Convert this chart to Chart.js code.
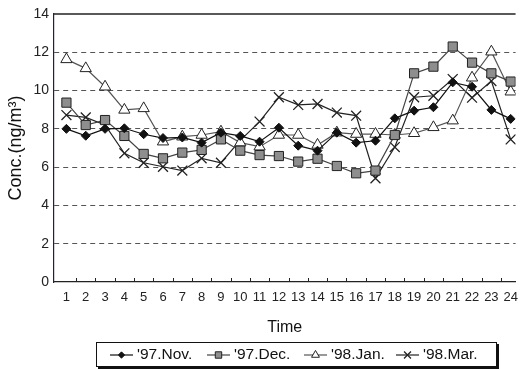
<!DOCTYPE html>
<html>
<head>
<meta charset="utf-8">
<script src="https://cdn.jsdelivr.net/npm/chart.js@4/dist/chart.umd.min.js"></script>
<style>
html, body { margin: 0; padding: 0; background: #fff; }
#wrap { width: 526px; height: 369px; }
</style>
</head>
<body>
<div id="wrap"><canvas id="concChart" width="526" height="369"></canvas></div>
<script>
// 時刻 (横軸)
const hours = [1, 2, 3, 4, 5, 6, 7, 8, 9, 10, 11, 12, 13, 14, 15, 16, 17, 18, 19, 20, 21, 22, 23, 24];
// 縦軸の目盛り
const yTicks = [0, 2, 4, 6, 8, 10, 12, 14];
// 凡例ラベル
const seriesLabels = ["'97.Nov.", "'97.Dec.", "'98.Jan.", "'98.Mar."];

// 各月の濃度 (ng/m3)
const nov97 = [8.0, 7.64, 8.0, 8.03, 7.72, 7.52, 7.55, 7.28, 7.8, 7.63, 7.33, 8.06, 7.12, 6.86, 7.8, 7.28, 7.38, 8.55, 8.95, 9.13, 10.43, 10.2, 8.99, 8.52];
const dec97 = [9.37, 8.2, 8.46, 7.63, 6.69, 6.46, 6.76, 6.9, 7.45, 6.86, 6.63, 6.58, 6.29, 6.44, 6.06, 5.68, 5.82, 7.68, 10.9, 11.25, 12.3, 11.46, 10.9, 10.47];
const jan98 = [11.63, 11.16, 10.2, 8.99, 9.07, 7.33, 7.59, 7.68, 7.85, 7.28, 7.07, 7.68, 7.68, 7.16, 7.8, 7.73, 7.73, 7.68, 7.77, 8.08, 8.43, 10.67, 12.03, 9.94];
const mar98 = [8.72, 8.6, 8.2, 6.72, 6.23, 6.02, 5.82, 6.46, 6.23, 7.4, 8.38, 9.65, 9.25, 9.3, 8.85, 8.69, 5.42, 7.05, 9.65, 9.73, 10.6, 9.63, 10.5, 7.45];

function toPoints(values) {
    return hours.map((h, i) => ({ x: h, y: values[i] }));
}

const FONT = '"Liberation Sans", Arial, sans-serif';

// 凡例を枠付きで描くプラグイン
const legendStarts = [110, 207, 304, 396];
const boxLegend = {
    id: 'boxLegend',
    afterDraw(chart) {
        const ctx = chart.ctx;
        ctx.save();
        // 影付きの枠
        ctx.fillStyle = '#111';
        ctx.fillRect(98, 344, 401, 25);
        ctx.fillStyle = '#fff';
        ctx.fillRect(96, 342, 401, 25);
        ctx.strokeStyle = '#111';
        ctx.lineWidth = 1;
        ctx.strokeRect(96.5, 342.5, 400, 24);

        ctx.font = '15.5px ' + FONT;
        ctx.textBaseline = 'middle';
        const y = 355;
        chart.data.datasets.forEach((ds, i) => {
            const x = legendStarts[i];
            ctx.strokeStyle = ds.borderColor;
            ctx.lineWidth = 1.2;
            ctx.beginPath();
            ctx.moveTo(x, y);
            ctx.lineTo(x + 23, y);
            ctx.stroke();
            ctx.fillStyle = ds.pointBackgroundColor;
            ctx.strokeStyle = ds.pointBorderColor;
            ctx.lineWidth = ds.pointBorderWidth;
            Chart.helpers.drawPoint(ctx, {
                pointStyle: ds.pointStyle,
                radius: ds.pointRadius * 0.7,
                rotation: 0,
                borderWidth: ds.pointBorderWidth
            }, x + 11.5, y);
            ctx.fillStyle = '#111';
            ctx.fillText(ds.label, x + 27, y);
        });
        ctx.restore();
    }
};

// 上枠と横軸の内向き目盛り
const frameLines = {
    id: 'frameLines',
    afterDraw(chart) {
        const { ctx, chartArea } = chart;
        const xs = chart.scales.x;
        ctx.save();
        ctx.strokeStyle = '#222';
        ctx.lineWidth = 1.5;
        ctx.beginPath();
        ctx.moveTo(chartArea.left, chartArea.top);
        ctx.lineTo(chartArea.right, chartArea.top);
        ctx.stroke();
        ctx.lineWidth = 1;
        hours.forEach(h => {
            const px = Math.round(xs.getPixelForValue(h + 0.5)) + 0.5;
            if (px < chartArea.right) {
                ctx.beginPath();
                ctx.moveTo(px, chartArea.bottom);
                ctx.lineTo(px, chartArea.bottom - 4);
                ctx.stroke();
            }
        });
        ctx.restore();
    }
};

new Chart(document.getElementById('concChart').getContext('2d'), {
    type: 'line',
    data: {
        datasets: [
            {
                label: seriesLabels[0],
                data: toPoints(nov97),
                borderColor: '#111',
                borderWidth: 1.2,
                pointStyle: 'rectRot',
                pointRadius: 4.5,
                pointBackgroundColor: '#111',
                pointBorderColor: '#111',
                pointBorderWidth: 1
            },
            {
                label: seriesLabels[1],
                data: toPoints(dec97),
                borderColor: '#444',
                borderWidth: 1.2,
                pointStyle: 'rect',
                pointRadius: 6.5,
                pointBackgroundColor: '#8e8e8e',
                pointBorderColor: '#222',
                pointBorderWidth: 1
            },
            {
                label: seriesLabels[2],
                data: toPoints(jan98),
                borderColor: '#555',
                borderWidth: 1.2,
                pointStyle: 'triangle',
                pointRadius: 6.5,
                pointBackgroundColor: '#fff',
                pointBorderColor: '#222',
                pointBorderWidth: 1
            },
            {
                label: seriesLabels[3],
                data: toPoints(mar98),
                borderColor: '#222',
                borderWidth: 1.2,
                pointStyle: 'crossRot',
                pointRadius: 7,
                pointBackgroundColor: '#222',
                pointBorderColor: '#222',
                pointBorderWidth: 1.3
            }
        ]
    },
    options: {
        responsive: false,
        animation: false,
        devicePixelRatio: 1,
        layout: { padding: { left: 0, right: 0, top: 14, bottom: 31 } },
        plugins: {
            legend: { display: false },
            tooltip: { enabled: false }
        },
        scales: {
            x: {
                type: 'linear',
                min: 0.357,
                max: 24.253,
                afterFit: scale => { scale.height = 56; },
                afterBuildTicks: scale => { scale.ticks = hours.map(v => ({ value: v })); },
                grid: { display: false, drawTicks: false },
                border: { display: true, color: '#222', width: 1.2 },
                ticks: {
                    autoSkip: false,
                    maxRotation: 0,
                    padding: 8,
                    color: '#222',
                    font: { family: FONT, size: 13 }
                },
                title: {
                    display: true,
                    text: 'Time',
                    color: '#111',
                    padding: { top: 0, bottom: 1 },
                    font: { family: FONT, size: 16 }
                }
            },
            y: {
                min: 0,
                max: 14,
                afterFit: scale => { scale.width = 54; },
                afterBuildTicks: scale => { scale.ticks = yTicks.map(v => ({ value: v })); },
                grid: {
                    drawTicks: false,
                    lineWidth: 1,
                    color: c => (c.tick && (c.tick.value === 0 || c.tick.value === 14)) ? 'rgba(0,0,0,0)' : '#555'
                },
                border: { display: true, color: '#223', width: 1.2, dash: [5, 4] },
                ticks: {
                    padding: 5,
                    color: '#222',
                    font: { family: FONT, size: 14 }
                },
                title: {
                    display: true,
                    text: 'Conc.(ng/m³)',
                    color: '#111',
                    padding: { top: 5, bottom: 0 },
                    font: { family: FONT, size: 18 }
                }
            }
        }
    },
    plugins: [boxLegend, frameLines]
});
</script>
</body>
</html>
